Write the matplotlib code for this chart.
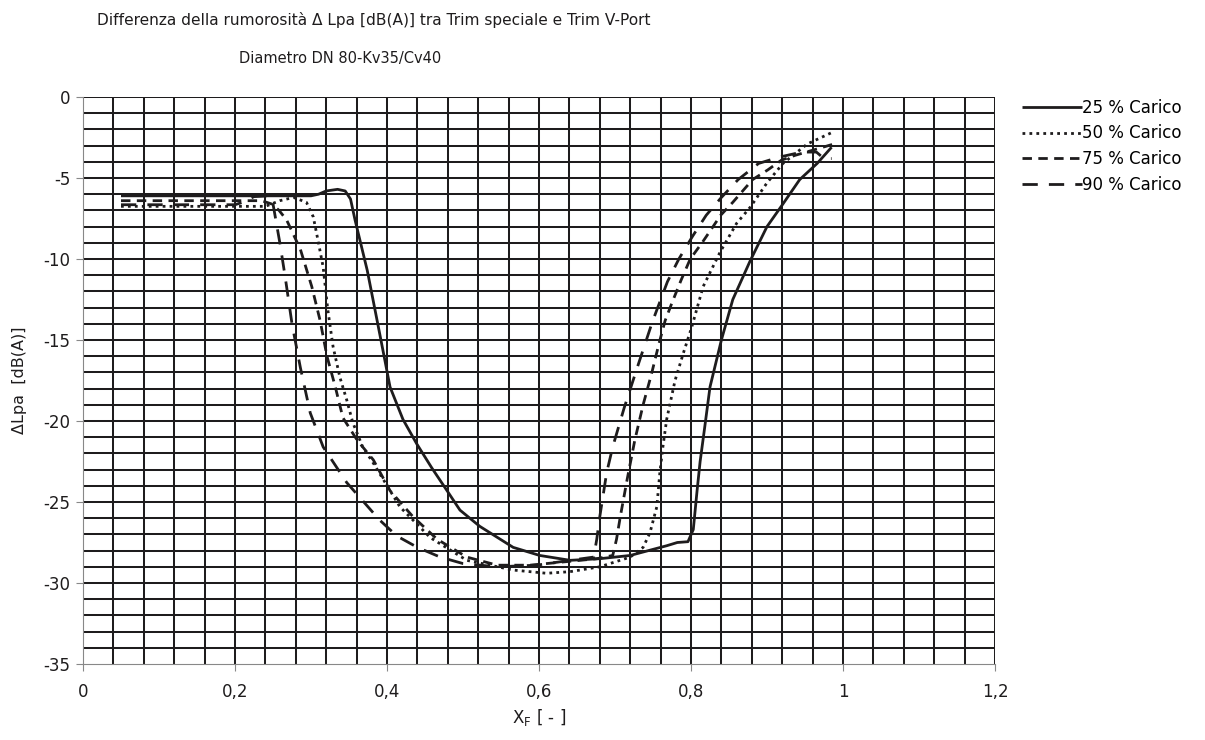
import matplotlib
matplotlib.use("Agg")
import matplotlib.pyplot as plt
import numpy as np

# ── Data ─────────────────────────────────────────────────────────────────────
TITLE_1 = "Differenza della rumorosità Δ Lpa [dB(A)] tra Trim speciale e Trim V-Port"
TITLE_2 = "Diametro DN 80-Kv35/Cv40"
SERIES_LABELS = ["25 % Carico", "50 % Carico", "75 % Carico", "90 % Carico"]

x25 = [0.05, 0.20, 0.30, 0.31, 0.32, 0.335, 0.345, 0.352, 0.358, 0.374, 0.387,
       0.397, 0.404, 0.421, 0.439, 0.459, 0.479, 0.496, 0.522, 0.566, 0.601,
       0.641, 0.68, 0.72, 0.768, 0.782, 0.796, 0.803, 0.808, 0.812, 0.818,
       0.825, 0.84, 0.855, 0.878, 0.90, 0.921, 0.943, 0.966, 0.985]
y25 = [-6.1, -6.1, -6.1, -6.0, -5.8, -5.7, -5.8, -6.3, -7.6, -10.7, -13.8,
       -16.2, -17.9, -19.9, -21.4, -22.9, -24.3, -25.5, -26.5, -27.8, -28.3,
       -28.6, -28.5, -28.3, -27.7, -27.5, -27.45, -26.7, -24.3, -22.5, -20.4,
       -17.9, -15.0, -12.5, -10.1, -8.0, -6.6, -5.1, -4.1, -3.1]

x50 = [0.05, 0.24, 0.259, 0.277, 0.294, 0.303, 0.309, 0.316, 0.322, 0.329,
       0.338, 0.347, 0.355, 0.368, 0.382, 0.395, 0.417, 0.457, 0.505, 0.566,
       0.61, 0.641, 0.68, 0.72, 0.737, 0.746, 0.755, 0.759, 0.763, 0.768,
       0.779, 0.79, 0.801, 0.816, 0.838, 0.86, 0.878, 0.90, 0.921, 0.953, 0.985]
y50 = [-6.75, -6.75, -6.4, -6.2, -6.5, -7.4, -8.8, -10.5, -13.1, -15.4,
       -17.3, -18.7, -20.1, -21.6, -22.6, -23.6, -25.3, -27.2, -28.6, -29.2,
       -29.4, -29.3, -29.0, -28.4, -27.8, -26.9, -25.3, -23.2, -21.6, -19.9,
       -17.5, -15.8, -14.2, -11.7, -9.6, -7.8, -6.8, -5.3, -4.1, -2.9, -2.2]

x75 = [0.05, 0.235, 0.248, 0.258, 0.268, 0.286, 0.301, 0.312, 0.321, 0.332,
       0.342, 0.361, 0.382, 0.404, 0.434, 0.466, 0.505, 0.545, 0.588, 0.632,
       0.676, 0.697, 0.702, 0.707, 0.716, 0.726, 0.737, 0.748, 0.758, 0.766,
       0.775, 0.787, 0.799, 0.816, 0.829, 0.839, 0.855, 0.868, 0.881, 0.901,
       0.919, 0.937, 0.959, 0.988]
y75 = [-6.4, -6.4, -6.6, -7.0, -7.6, -9.4, -11.7, -13.8, -16.0, -17.9,
       -19.8, -21.2, -22.4, -24.3, -25.9, -27.3, -28.4, -28.9, -28.9, -28.7,
       -28.5, -28.3, -27.3, -25.9, -23.6, -21.2, -19.0, -17.1, -15.2, -13.8,
       -12.7, -11.3, -10.0, -8.9, -8.0, -7.3, -6.5, -5.8, -5.1, -4.5,
       -3.9, -3.6, -3.3, -2.9]

x90 = [0.05, 0.20, 0.21, 0.225, 0.245, 0.25, 0.259, 0.266, 0.275, 0.286,
       0.299, 0.316, 0.347, 0.39, 0.413, 0.44, 0.47, 0.50, 0.545, 0.597,
       0.641, 0.672, 0.676, 0.68, 0.689, 0.697, 0.712, 0.73, 0.749, 0.769,
       0.784, 0.802, 0.82, 0.84, 0.862, 0.889, 0.917, 0.946, 0.965, 0.975, 0.985]
y90 = [-6.65, -6.65, -6.5, -6.15, -6.1, -6.6, -9.0, -11.1, -14.0, -16.7,
       -19.5, -21.6, -23.8, -26.1, -27.1, -27.8, -28.4, -28.8, -29.0, -28.9,
       -28.6, -28.4, -27.3, -25.9, -23.2, -21.6, -19.2, -16.6, -13.9, -11.4,
       -10.0, -8.6, -7.3, -6.2, -5.1, -4.1, -3.7, -3.4, -3.4, -3.8, -3.8]

X_TICKS = [0, 0.2, 0.4, 0.6, 0.8, 1.0, 1.2]
X_TICKLABELS = ["0", "0,2", "0,4", "0,6", "0,8", "1", "1,2"]
Y_TICKS = [0, -5, -10, -15, -20, -25, -30, -35]
Y_TICKLABELS = ["0", "-5", "-10", "-15", "-20", "-25", "-30", "-35"]

# ── Style ─────────────────────────────────────────────────────────────────────
INK = "#1e1c1d"
plt.rcParams.update({
    "font.family": "DejaVu Sans",
    "font.size": 11,
})

STYLES = [
    dict(linestyle="-"),
    dict(linestyle=(0, (1.0, 1.5))),
    dict(linestyle=(0, (3.4, 2.3))),
    dict(linestyle=(0, (5.5, 4.0))),
]

fig = plt.figure(figsize=(12.05, 7.4), dpi=100)
ax = fig.add_axes([83 / 1205, 1 - 664 / 740, (995 - 83) / 1205, (664 - 97) / 740])

# grid: 0.04 in x, 1 dB in y
for gx in np.arange(0.04, 1.2001, 0.04):
    ax.axvline(gx, color=INK, lw=1.45, zorder=1)
for gy in np.arange(-34, 0.001, 1):
    ax.axhline(gy, color=INK, lw=1.45, zorder=1)

series = [(x25, y25), (x50, y50), (x75, y75), (x90, y90)]
for (xs, ys), lab, st in zip(series, SERIES_LABELS, STYLES):
    ax.plot(xs, ys, color=INK, lw=2.0, label=lab, zorder=3,
            solid_capstyle="butt", dash_capstyle="butt", **st)

ax.set_xlim(0, 1.2)
ax.set_ylim(-35, 0)
ax.set_xticks(X_TICKS)
ax.set_xticklabels(X_TICKLABELS)
ax.set_yticks(Y_TICKS)
ax.set_yticklabels(Y_TICKLABELS)
ax.tick_params(direction="out", length=5, width=0.8, color="#888888",
               labelsize=12, labelcolor=INK)
ax.tick_params(axis="y", pad=4)
ax.tick_params(axis="x", pad=9)
for side in ["left", "bottom"]:
    ax.spines[side].set_color("#888888")
    ax.spines[side].set_linewidth(0.8)
for side in ["top", "right"]:
    ax.spines[side].set_visible(False)

ax.set_xlabel(r"X$_\mathregular{F}$ [ - ]", fontsize=12, color=INK, labelpad=4)
ax.set_ylabel("ΔLpa  [dB(A)]", fontsize=11.5, color=INK, labelpad=12)

fig.text(374 / 1205, 1 - 20 / 740, TITLE_1, fontsize=11.1, color=INK,
         ha="center", va="center")
fig.text(340 / 1205, 1 - 58 / 740, TITLE_2, fontsize=10.5, color=INK,
         ha="center", va="center")

fig.legend(loc="upper left", bbox_to_anchor=(1022 / 1205, 1 - 99 / 740),
           frameon=False, fontsize=12, handlelength=3.6, handletextpad=0.0,
           labelspacing=0.45, borderaxespad=0, borderpad=0)

fig.savefig("out.png", dpi=100)
